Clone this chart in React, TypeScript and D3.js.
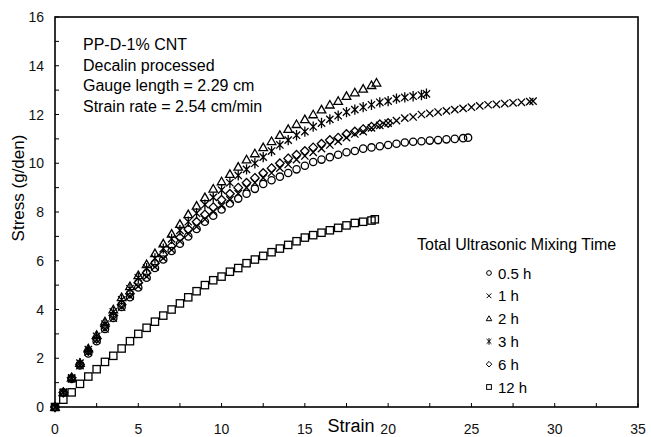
import { useEffect, useRef } from 'react';
import * as d3 from 'd3';

// [strain, stress]
const s05h: [number, number][] = [
  [0, 0], [0.5, 0.6], [1, 1.15], [1.5, 1.7], [2, 2.2], [2.5, 2.7], [3, 3.2], [3.5, 3.65], [4, 4.1], [4.5, 4.5],
  [5, 4.9], [5.5, 5.3], [6, 5.7], [6.5, 6.05], [7, 6.4], [7.5, 6.7], [8, 7.0], [8.5, 7.3], [9, 7.6], [9.5, 7.85],
  [10, 8.1], [10.5, 8.35], [11, 8.55], [11.5, 8.75], [12, 8.95], [12.5, 9.15], [13, 9.3], [13.5, 9.45], [14, 9.6],
  [14.5, 9.75], [15, 9.9], [15.5, 10.05], [16, 10.15], [16.5, 10.25], [17, 10.35], [17.5, 10.45], [18, 10.5],
  [18.5, 10.6], [19, 10.65], [19.5, 10.7], [20, 10.75], [20.5, 10.8], [21, 10.85], [21.5, 10.88], [22, 10.9],
  [22.5, 10.93], [23, 10.95], [23.5, 10.98], [24, 11.0], [24.5, 11.03], [24.8, 11.05],
];
const s1h: [number, number][] = [
  [0, 0], [0.5, 0.6], [1, 1.15], [1.5, 1.7], [2, 2.25], [2.5, 2.75], [3, 3.2], [3.5, 3.65], [4, 4.1], [4.5, 4.55],
  [5, 4.95], [5.5, 5.35], [6, 5.75], [6.5, 6.1], [7, 6.45], [7.5, 6.8], [8, 7.1], [8.5, 7.4], [9, 7.7], [9.5, 8.0],
  [10, 8.25], [10.5, 8.5], [11, 8.75], [11.5, 9.0], [12, 9.2], [12.5, 9.4], [13, 9.6], [13.5, 9.8], [14, 9.95],
  [14.5, 10.15], [15, 10.3], [15.5, 10.45], [16, 10.6], [16.5, 10.75], [17, 10.9], [17.5, 11.05], [18, 11.2],
  [18.5, 11.3], [19, 11.45], [19.5, 11.55], [20, 11.65], [20.5, 11.75], [21, 11.85], [21.5, 11.9], [22, 12.0],
  [22.5, 12.05], [23, 12.1], [23.5, 12.15], [24, 12.2], [24.5, 12.25], [25, 12.3], [25.5, 12.35], [26, 12.4],
  [26.5, 12.42], [27, 12.45], [27.5, 12.48], [28, 12.5], [28.5, 12.53], [28.7, 12.55],
];
const s2h: [number, number][] = [
  [0, 0], [0.5, 0.6], [1, 1.2], [1.5, 1.8], [2, 2.4], [2.5, 2.95], [3, 3.5], [3.5, 4.0], [4, 4.5], [4.5, 4.95],
  [5, 5.4], [5.5, 5.85], [6, 6.3], [6.5, 6.7], [7, 7.1], [7.5, 7.5], [8, 7.9], [8.5, 8.25], [9, 8.6], [9.5, 8.95],
  [10, 9.25], [10.5, 9.55], [11, 9.85], [11.5, 10.15], [12, 10.4], [12.5, 10.65], [13, 10.9], [13.5, 11.15],
  [14, 11.4], [14.5, 11.6], [15, 11.8], [15.5, 12.0], [16, 12.2], [16.5, 12.4], [17, 12.55], [17.5, 12.75],
  [18, 12.9], [18.5, 13.05], [19, 13.2], [19.3, 13.3],
];
const s3h: [number, number][] = [
  [0, 0], [0.5, 0.6], [1, 1.2], [1.5, 1.8], [2, 2.35], [2.5, 2.9], [3, 3.4], [3.5, 3.9], [4, 4.4], [4.5, 4.85],
  [5, 5.3], [5.5, 5.7], [6, 6.1], [6.5, 6.5], [7, 6.9], [7.5, 7.25], [8, 7.6], [8.5, 7.95], [9, 8.3], [9.5, 8.6],
  [10, 8.9], [10.5, 9.2], [11, 9.5], [11.5, 9.75], [12, 10.0], [12.5, 10.25], [13, 10.5], [13.5, 10.75],
  [14, 10.95], [14.5, 11.15], [15, 11.3], [15.5, 11.5], [16, 11.65], [16.5, 11.8], [17, 11.95], [17.5, 12.1],
  [18, 12.2], [18.5, 12.3], [19, 12.4], [19.5, 12.5], [20, 12.55], [20.5, 12.65], [21, 12.7], [21.5, 12.75],
  [22, 12.8], [22.3, 12.85],
];
const s6h: [number, number][] = [
  [0, 0], [0.5, 0.6], [1, 1.2], [1.5, 1.75], [2, 2.3], [2.5, 2.8], [3, 3.3], [3.5, 3.75], [4, 4.2], [4.5, 4.65],
  [5, 5.1], [5.5, 5.5], [6, 5.9], [6.5, 6.25], [7, 6.6], [7.5, 6.95], [8, 7.3], [8.5, 7.6], [9, 7.9], [9.5, 8.2],
  [10, 8.5], [10.5, 8.75], [11, 9.0], [11.5, 9.2], [12, 9.4], [12.5, 9.6], [13, 9.8], [13.5, 10.0], [14, 10.2],
  [14.5, 10.35], [15, 10.5], [15.5, 10.65], [16, 10.8], [16.5, 10.95], [17, 11.05], [17.5, 11.2], [18, 11.3],
  [18.5, 11.4], [19, 11.5], [19.5, 11.6], [20, 11.65],
];
const s12h: [number, number][] = [
  [0, 0], [0.5, 0.3], [1, 0.6], [1.5, 0.95], [2, 1.25], [2.5, 1.55], [3, 1.85], [3.5, 2.1], [4, 2.4], [4.5, 2.7],
  [5, 3.0], [5.5, 3.25], [6, 3.5], [6.5, 3.75], [7, 4.0], [7.5, 4.25], [8, 4.5], [8.5, 4.75], [9, 5.0], [9.5, 5.2],
  [10, 5.35], [10.5, 5.55], [11, 5.7], [11.5, 5.9], [12, 6.05], [12.5, 6.2], [13, 6.35], [13.5, 6.5], [14, 6.65],
  [14.5, 6.8], [15, 6.95], [15.5, 7.05], [16, 7.15], [16.5, 7.25], [17, 7.35], [17.5, 7.45], [18, 7.55],
  [18.5, 7.6], [19, 7.65], [19.2, 7.7],
];

const seriesNames = ['0.5 h', '1 h', '2 h', '3 h', '6 h', '12 h'];
const seriesMarkers = ['circle', 'cross', 'triangle', 'star', 'diamond', 'square'];
const xTickLabels = [0, 5, 10, 15, 20, 25, 30, 35];
const yTickLabels = [0, 2, 4, 6, 8, 10, 12, 14, 16];
const noteLines = ['PP-D-1% CNT', 'Decalin processed', 'Gauge length = 2.29 cm', 'Strain rate = 2.54 cm/min'];

const font = 'Liberation Sans, Arial, sans-serif';

// s = half size of the marker
function drawMarker(g: any, kind: string, x: number, y: number, s: number, w: number) {
  const st = (sel: any) => sel.attr('fill', 'none').attr('stroke', '#000').attr('stroke-width', w);
  if (kind === 'circle') {
    st(g.append('circle').attr('cx', x).attr('cy', y).attr('r', s * 0.85));
  } else if (kind === 'square') {
    st(g.append('rect').attr('x', x - s * 0.85).attr('y', y - s * 0.85).attr('width', s * 1.7).attr('height', s * 1.7));
  } else if (kind === 'triangle') {
    st(g.append('path').attr('d', `M${x},${y - s}L${x + s},${y + s * 0.75}L${x - s},${y + s * 0.75}Z`));
  } else if (kind === 'diamond') {
    st(g.append('path').attr('d', `M${x},${y - s}L${x + s},${y}L${x},${y + s}L${x - s},${y}Z`));
  } else if (kind === 'cross') {
    const c = s * 0.85;
    st(g.append('path').attr('d', `M${x - c},${y - c}L${x + c},${y + c}M${x - c},${y + c}L${x + c},${y - c}`));
  } else {
    const c = s * 0.85;
    st(g.append('path').attr('d', `M${x - c},${y - c}L${x + c},${y + c}M${x - c},${y + c}L${x + c},${y - c}M${x},${y - s * 1.2}L${x},${y + s * 1.2}`));
  }
}

const App = () => {
  const svgRef = useRef<SVGSVGElement>(null);

  useEffect(() => {
    if (!svgRef.current) return;
    const svg = d3.select(svgRef.current);
    svg.selectAll('*').remove();

    const left = 55, right = 638, top = 17, bottom = 407;
    const x = d3.scaleLinear().domain([0, 35]).range([left, right]);
    const y = d3.scaleLinear().domain([0, 16]).range([bottom, top]);

    const allSeries = [s05h, s1h, s2h, s3h, s6h, s12h];

    // markers
    const pts = svg.append('g');
    allSeries.forEach((data, i) => {
      data.forEach(d => drawMarker(pts, seriesMarkers[i], x(d[0]), y(d[1]), 4.3, 1.3));
    });

    // frame
    svg.append('rect')
      .attr('x', left).attr('y', top)
      .attr('width', right - left).attr('height', bottom - top)
      .attr('fill', 'none').attr('stroke', '#000').attr('stroke-width', 1.6);

    // ticks (inward)
    const ax = svg.append('g').attr('stroke', '#000').attr('stroke-width', 1);
    d3.range(0, 35.01, 2.5).forEach(v => {
      ax.append('line').attr('x1', x(v)).attr('x2', x(v)).attr('y1', bottom).attr('y2', bottom - 4);
    });
    d3.range(0, 16.01, 1).forEach(v => {
      ax.append('line').attr('x1', left).attr('x2', left + 4).attr('y1', y(v)).attr('y2', y(v));
    });

    svg.append('g').selectAll('text').data(xTickLabels).enter().append('text')
      .attr('x', d => x(d)).attr('y', 434)
      .attr('text-anchor', 'middle')
      .style('font-family', font).style('font-size', '14px').attr('fill', '#111')
      .text(d => d);

    svg.append('g').selectAll('text').data(yTickLabels).enter().append('text')
      .attr('x', 44).attr('y', d => y(d) + 5)
      .attr('text-anchor', 'end')
      .style('font-family', font).style('font-size', '14px').attr('fill', '#111')
      .text(d => d);

    svg.append('text')
      .attr('x', 351).attr('y', 432)
      .attr('text-anchor', 'middle')
      .style('font-family', font).style('font-size', '18px')
      .text('Strain');

    svg.append('text')
      .attr('transform', 'translate(24,188) rotate(-90)')
      .attr('text-anchor', 'middle')
      .style('font-family', font).style('font-size', '17px')
      .text('Stress (g/den)');

    // note
    svg.append('g').selectAll('text').data(noteLines).enter().append('text')
      .attr('x', 83).attr('y', (d, i) => 50 + i * 20.7)
      .style('font-family', font).style('font-size', '16px')
      .text(d => d);

    // legend
    svg.append('text')
      .attr('x', 417).attr('y', 250)
      .style('font-family', font).style('font-size', '16px')
      .text('Total Ultrasonic Mixing Time');

    const lg = svg.append('g');
    seriesNames.forEach((name, i) => {
      const ly = 273 + i * 22.8;
      drawMarker(lg, seriesMarkers[i], 489, ly, 2.8, 1);
      lg.append('text')
        .attr('x', 498).attr('y', ly + 5.5)
        .style('font-family', font).style('font-size', '15px')
        .text(name);
    });
  }, []);

  return (
    <svg ref={svgRef} width={651} height={437}
      style={{ position: 'absolute', left: 0, top: 0, background: '#fff' }} />
  );
};

export default App;
